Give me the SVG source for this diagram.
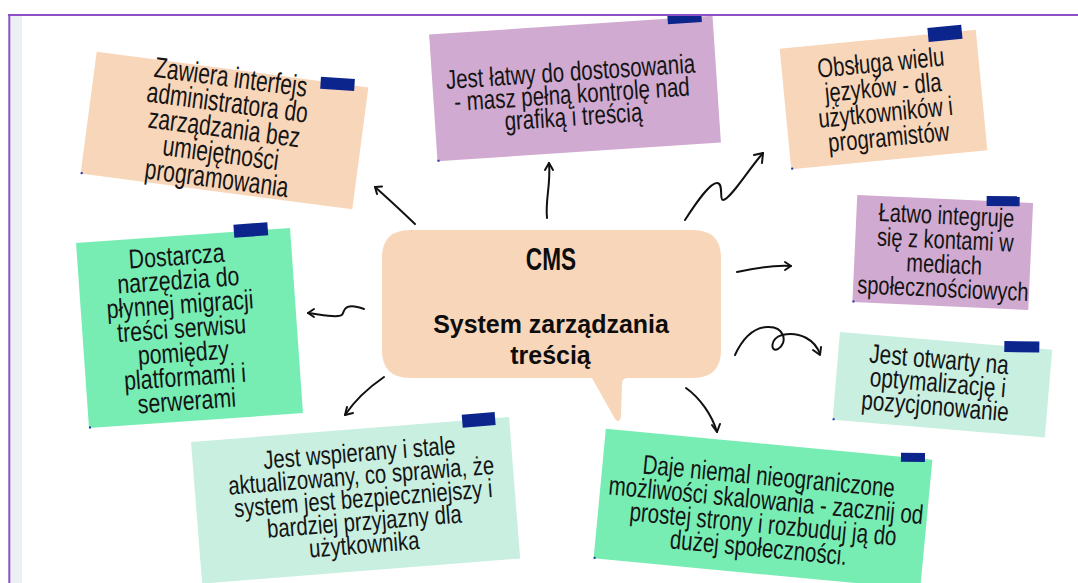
<svg xmlns="http://www.w3.org/2000/svg" width="1078" height="583" viewBox="0 0 1078 583">
<defs>
<style>
.nt{font-family:"Liberation Sans",Arial,sans-serif;fill:#141414;text-anchor:middle}
.ct{font-family:"Liberation Sans",Arial,sans-serif;font-weight:bold;fill:#0d0d0d;text-anchor:middle}
.tape{fill:#0b258c}
.dot{fill:#2233aa}
.peach{fill:#f8d6ba}
.lav{fill:#d0aad0}
.green{fill:#77edb4}
.mint{fill:#c9efe1}
#connectors path{fill:none;stroke:#111;stroke-width:2;stroke-linecap:round;stroke-linejoin:round}
</style>
<clipPath id="page"><rect x="10" y="16" width="1068" height="567"/></clipPath>
</defs>
<rect width="1078" height="583" fill="#ffffff"/>
<rect x="10" y="16" width="12" height="567" fill="#eceff3"/>
<g clip-path="url(#page)">
<g id="n1" transform="translate(224.5,130.5) rotate(7.5)">
<rect class="peach" x="-137" y="-61.5" width="274" height="123"/>
<rect class="tape" x="89" y="-67" width="34" height="12" transform="rotate(-4 106 -61)"/>
<rect class="dot" x="-137" y="60" width="2" height="2"/>
<g transform="scale(0.724,1)" class="nt" font-size="29">
<text x="-1" y="-44">Zawiera interfejs</text>
<text x="-1" y="-18.5">administratora do</text>
<text x="-1" y="7">zarządzania bez</text>
<text x="-1" y="32.5">umiejętności</text>
<text x="-2" y="58">programowania</text>
</g>
</g>
<g id="n2" transform="translate(575,88.5) rotate(-3.8)">
<rect class="lav" x="-142" y="-63.5" width="284" height="127"/>
<rect class="tape" x="97" y="-70" width="34" height="12"/>
<rect class="dot" x="-142" y="62" width="2" height="2"/>
<g transform="scale(0.76,1)" class="nt" font-size="27">
<text x="-4.6" y="-8">Jest łatwy do dostosowania</text>
<text x="-4.6" y="14.5">- masz pełną kontrolę nad</text>
<text x="-4.6" y="37">grafiką i treścią</text>
</g>
</g>
<g id="n3" transform="translate(883.5,99.5) rotate(-5.5)">
<rect class="peach" x="-98.5" y="-60.5" width="197" height="121"/>
<rect class="tape" x="50.5" y="-67" width="34" height="14"/>
<rect class="dot" x="-98.5" y="59" width="2" height="2"/>
<g transform="scale(0.75,1)" class="nt" font-size="27">
<text x="1" y="-28">Obsługa wielu</text>
<text x="1" y="-3">języków - dla</text>
<text x="1" y="22">użytkowników i</text>
<text x="2" y="47">programistów</text>
</g>
</g>
<g id="n4" transform="translate(942.75,252.5) rotate(2.6)">
<rect class="lav" x="-88" y="-53.5" width="176" height="107"/>
<rect class="tape" x="41.5" y="-59" width="33" height="10" transform="rotate(-2 58 -54)"/>
<rect class="dot" x="-88" y="52" width="2" height="2"/>
<g transform="scale(0.77,1)" class="nt" font-size="26">
<text x="2.6" y="-28.5">Łatwo integruje</text>
<text x="2.6" y="-4">się z kontami w</text>
<text x="2.6" y="20.4">mediach</text>
<text x="2.3" y="44.6">społecznościowych</text>
</g>
</g>
<g id="n5" transform="translate(942.4,384.7) rotate(4.8)">
<rect class="mint" x="-106.5" y="-44" width="213" height="88"/>
<rect class="tape" x="58.5" y="-50" width="35" height="11" transform="rotate(-4 76 -44)"/>
<rect class="dot" x="-106.5" y="42.5" width="2" height="2"/>
<g transform="scale(0.77,1)" class="nt" font-size="27">
<text x="-7" y="-16">Jest otwarty na</text>
<text x="-6" y="7.5">optymalizację i</text>
<text x="-7" y="31">pozycjonowanie</text>
</g>
</g>
<g id="n6" transform="translate(763,509) rotate(5.4)">
<rect class="green" x="-164" y="-65" width="328" height="130"/>
<rect class="tape" x="132.5" y="-70" width="24" height="9" transform="rotate(-5 144 -65)"/>
<rect class="dot" x="-164" y="63.5" width="2" height="2"/>
<g transform="scale(0.76,1)" class="nt" font-size="27">
<text x="3.5" y="-24">Daje niemal nieograniczone</text>
<text x="3" y="0">możliwości skalowania - zacznij od</text>
<text x="2" y="24">prostej strony i rozbuduj ją do</text>
<text x="-1" y="48">dużej społeczności.</text>
</g>
</g>
<g id="n7" transform="translate(355.6,500.3) rotate(-4.5)">
<rect class="mint" x="-159.5" y="-71" width="319" height="142"/>
<rect class="tape" x="112.5" y="-77" width="33" height="13"/>
<g transform="scale(0.78,1)" class="nt" font-size="26">
<text x="9.5" y="-38.5">Jest wspierany i stale</text>
<text x="9.5" y="-15.5">aktualizowany, co sprawia, że</text>
<text x="10" y="7.5">system jest bezpieczniejszy i</text>
<text x="9" y="30.5">bardziej przyjazny dla</text>
<text x="6.5" y="53.5">użytkownika</text>
</g>
</g>
<g id="n8" transform="translate(189.5,328) rotate(-4)">
<rect class="green" x="-107.25" y="-92.8" width="214.5" height="185.6"/>
<rect class="tape" x="51" y="-100" width="34" height="13"/>
<rect class="dot" x="-107.25" y="91.3" width="2" height="2"/>
<g transform="scale(0.79,1)" class="nt" font-size="27">
<text x="-10" y="-63.6">Dostarcza</text>
<text x="-10" y="-39.4">narzędzia do</text>
<text x="-10" y="-15.2">płynnej migracji</text>
<text x="-10" y="9">treści serwisu</text>
<text x="-10" y="33.2">pomiędzy</text>
<text x="-10" y="57.4">platformami i</text>
<text x="-10" y="81.6">serwerami</text>
</g>
</g>
<g id="center">
<path class="peach" d="M410,230 H693 Q721,230 721,258 V350 Q721,378 693,378 H627 Q622,378 622,385 L621,416 Q620,424 615,419 L592,378 H410 Q382,378 382,350 V258 Q382,230 410,230 Z"/>
<g class="ct">
<text transform="translate(551,270) scale(0.73,1)" font-size="31">CMS</text>
<text transform="translate(551,333) scale(0.96,1)" font-size="26">System zarządzania</text>
<text transform="translate(550.5,364) scale(0.96,1)" font-size="26">treścią</text>
</g>
</g>
<g id="connectors">
<path d="M415,224 Q392,202 375,187"/>
<path d="M382,186.5 L375,187 L377,194"/>
<path d="M547,218 C545,200 551,185 549,163"/>
<path d="M545,170 L549,163 L553,170"/>
<path d="M685,220 C698,200 710,183 717,183 C724,183 719,200 723,200 C730,200 748,170 763,153"/>
<path d="M754,155 L763,153 L762,163"/>
<path d="M737,272 C755,268 775,265 791,266"/>
<path d="M785,262 L791,266 L785,270"/>
<path d="M735,355 C742,340 752,328 767,327 C785,326 788,343 778,349 C770,353 770,338 782,335 C800,331 815,340 820,354"/>
<path d="M813,350 L820,355 L821,347"/>
<path d="M686,388 C700,398 712,415 717,432"/>
<path d="M712,425 L717,432 L720,424"/>
<path d="M384,377 C368,388 355,400 345,415"/>
<path d="M347,407 L345,415 L353,413"/>
<path d="M364,309 C356,306 348,305 345,309 C342,313 344,316 338,316 C330,317 318,314 308,313"/>
<path d="M314,309 L308,313 L314,317"/>
</g>
</g>
<line x1="8" y1="15" x2="1078" y2="15" stroke="#8e50c4" stroke-width="2"/>
<line x1="9.3" y1="14" x2="9.3" y2="583" stroke="#8e50c4" stroke-width="2"/>
</svg>
